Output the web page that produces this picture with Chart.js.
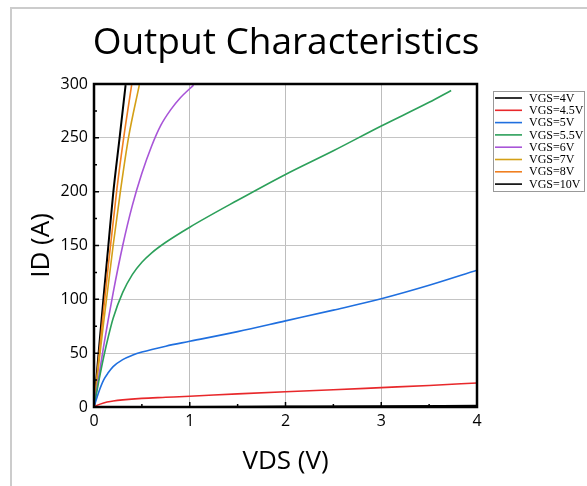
<!DOCTYPE html>
<html>
<head>
<meta charset="utf-8">
<title>Output Characteristics</title>
<script src="https://cdn.jsdelivr.net/npm/chart.js@4.4.1/dist/chart.umd.min.js"></script>
<style>
    body { margin: 0; background: #fff; }
    #wrap { position: relative; width: 587px; height: 486px; }
    #frame { position: absolute; left: 10px; top: 7px; right: 0; bottom: 0;
             border-left: 2px solid #cccccc; border-top: 2px solid #cccccc; }
    canvas { position: absolute; left: 0; top: 0; }
</style>
</head>
<body>
<div id="wrap">
    <div id="frame"></div>
    <canvas id="outputChart" width="587" height="486"></canvas>
</div>
<script>
// legend labels and colours
const labels = ['VGS=4V', 'VGS=4.5V', 'VGS=5V', 'VGS=5.5V', 'VGS=6V', 'VGS=7V', 'VGS=8V', 'VGS=10V'];
const colors = ['#000000', '#e8282b', '#1f6fdf', '#2ca05a', '#a855d8', '#d4a017', '#f07f20', '#000000'];

// VDS (V) / ID (A)
const vds4 = [0, 0.5, 1, 2, 3, 4];
const id4 = [0, 0.1, 0.3, 0.6, 0.9, 1.3];

const vds45 = [0, 0.03, 0.1, 0.2, 0.3, 0.5, 0.75, 1, 1.5, 2, 2.5, 3, 3.5, 4];
const id45 = [0, 1.5, 3.8, 5.5, 6.6, 8, 9, 10, 12.2, 14.2, 16, 18, 20, 22.3];

const vds5 = [0, 0.05, 0.1, 0.15, 0.2, 0.3, 0.4, 0.5, 0.75, 1, 1.5, 2, 2.5, 3, 3.5, 4];
const id5 = [0, 14, 25, 32, 37.5, 44, 48, 51, 56.5, 61, 70, 80, 90, 100.5, 113, 127];

const vds55 = [0, 0.05, 0.1, 0.15, 0.2, 0.3, 0.4, 0.5, 0.6, 0.75, 1, 1.5, 2, 2.5, 3, 3.5, 3.73];
const id55 = [0, 24, 46, 65.5, 82.5, 106.5, 123, 134.5, 143, 153, 167, 192, 216, 238, 261, 283, 294];

const vds6 = [0, 0.1, 0.2, 0.3, 0.4, 0.5, 0.6, 0.7, 0.8, 0.9, 1.04];
const id6 = [0, 56, 106, 150, 187, 217, 242, 262, 276, 287, 299];

const vds7 = [0, 0.05, 0.1, 0.2, 0.28, 0.36, 0.473];
const id7 = [0, 40, 78, 150, 203, 250, 299];

const vds8 = [0, 0.05, 0.1, 0.15, 0.24, 0.31, 0.393];
const id8 = [0, 46, 90, 132, 203, 250, 299];

const vds10 = [0, 0.05, 0.1, 0.15, 0.2, 0.27, 0.33];
const id10 = [0, 52, 102, 150, 198, 252, 299];

const xTicks = [0, 1, 2, 3, 4];
const yTicks = [0, 50, 100, 150, 200, 250, 300];

const series = [[vds4, id4], [vds45, id45], [vds5, id5], [vds55, id55],
                [vds6, id6], [vds7, id7], [vds8, id8], [vds10, id10]];

function toPoints(xs, ys) {
    return xs.map(function(x, i) { return {x: x, y: ys[i]}; });
}

const datasets = series.map(function(s, i) {
    return {
        label: labels[i],
        data: toPoints(s[0], s[1]),
        borderColor: colors[i],
        backgroundColor: colors[i],
        borderWidth: i === 7 ? 2 : 1.6,
        showLine: true,
        pointRadius: 0,
        cubicInterpolationMode: 'monotone'
    };
});

// frame and inward ticks
const framePlugin = {
    id: 'frame',
    afterDatasetsDraw: function(chart) {
        const ctx = chart.ctx;
        const a = chart.chartArea;
        const x = chart.scales.x, y = chart.scales.y;
        ctx.save();
        ctx.strokeStyle = '#000';
        ctx.lineWidth = 1.5;
        ctx.beginPath();
        for (let v = 0.5; v < 4; v += 0.5) {
            const px = x.getPixelForValue(v);
            const len = Number.isInteger(v) ? 5 : 3;
            ctx.moveTo(px, a.bottom);
            ctx.lineTo(px, a.bottom - len);
        }
        for (let v = 25; v < 300; v += 25) {
            const py = y.getPixelForValue(v);
            const len = v % 50 === 0 ? 5 : 3;
            ctx.moveTo(a.left, py);
            ctx.lineTo(a.left + len, py);
        }
        ctx.stroke();
        ctx.lineWidth = 2.5;
        ctx.strokeRect(a.left, a.top, a.right - a.left, a.bottom - a.top);
        ctx.restore();
    }
};

// boxed legend at the right
const legendPlugin = {
    id: 'boxLegend',
    afterDraw: function(chart) {
        const ctx = chart.ctx;
        const left = 493, top = 91, w = 91, h = 100;
        ctx.save();
        ctx.strokeStyle = '#999';
        ctx.lineWidth = 1;
        ctx.strokeRect(left + 0.5, top + 0.5, w, h);
        ctx.font = '12px "Liberation Serif"';
        ctx.textBaseline = 'middle';
        ctx.fillStyle = '#000';
        chart.data.datasets.forEach(function(ds, i) {
            const cy = top + 7 + i * 12.3;
            ctx.strokeStyle = ds.borderColor;
            ctx.lineWidth = 1.6;
            ctx.beginPath();
            ctx.moveTo(left + 2, cy);
            ctx.lineTo(left + 29, cy);
            ctx.stroke();
            ctx.fillText(ds.label, left + 36, cy + 0.5);
        });
        ctx.restore();
    }
};

const ctx = document.getElementById('outputChart').getContext('2d');
new Chart(ctx, {
    type: 'scatter',
    data: { datasets: datasets },
    plugins: [framePlugin, legendPlugin],
    options: {
        responsive: false,
        animation: false,
        layout: { padding: { left: 0, right: 15, top: 0, bottom: 0 } },
        plugins: {
            legend: { display: false },
            tooltip: { enabled: false },
            title: {
                display: true,
                text: 'Output Characteristics',
                color: '#000',
                font: { family: 'Open Sans', size: 37, weight: 'normal' },
                padding: { top: 21, bottom: 18.6 }
            }
        },
        scales: {
            x: {
                type: 'linear',
                min: 0,
                max: 4,
                afterBuildTicks: function(s) { s.ticks = xTicks.map(function(v) { return {value: v}; }); },
                afterFit: function(s) { s.height = 79; },
                ticks: { color: '#000', padding: 5, font: { family: 'Open Sans', size: 16 } },
                grid: { color: '#bdbdbd', drawTicks: false },
                border: { display: false },
                title: {
                    display: true,
                    text: 'VDS (V)',
                    color: '#000',
                    font: { family: 'Open Sans', size: 26 },
                    padding: { top: 0, bottom: 9 }
                }
            },
            y: {
                type: 'linear',
                min: 0,
                max: 300,
                afterBuildTicks: function(s) { s.ticks = yTicks.map(function(v) { return {value: v}; }); },
                afterFit: function(s) { s.width = 94; },
                ticks: { color: '#000', padding: 6, font: { family: 'Open Sans', size: 16 } },
                grid: { color: '#c4c4c4', drawTicks: false },
                border: { display: false },
                title: {
                    display: true,
                    text: 'ID (A)',
                    color: '#000',
                    font: { family: 'Open Sans', size: 26 },
                    padding: { top: 26, bottom: 0 }
                }
            },
            y2: {
                type: 'linear',
                position: 'right',
                afterFit: function(s) { s.width = 95; },
                ticks: { display: false },
                grid: { display: false },
                border: { display: false }
            }
        }
    }
});
</script>
</body>
</html>
